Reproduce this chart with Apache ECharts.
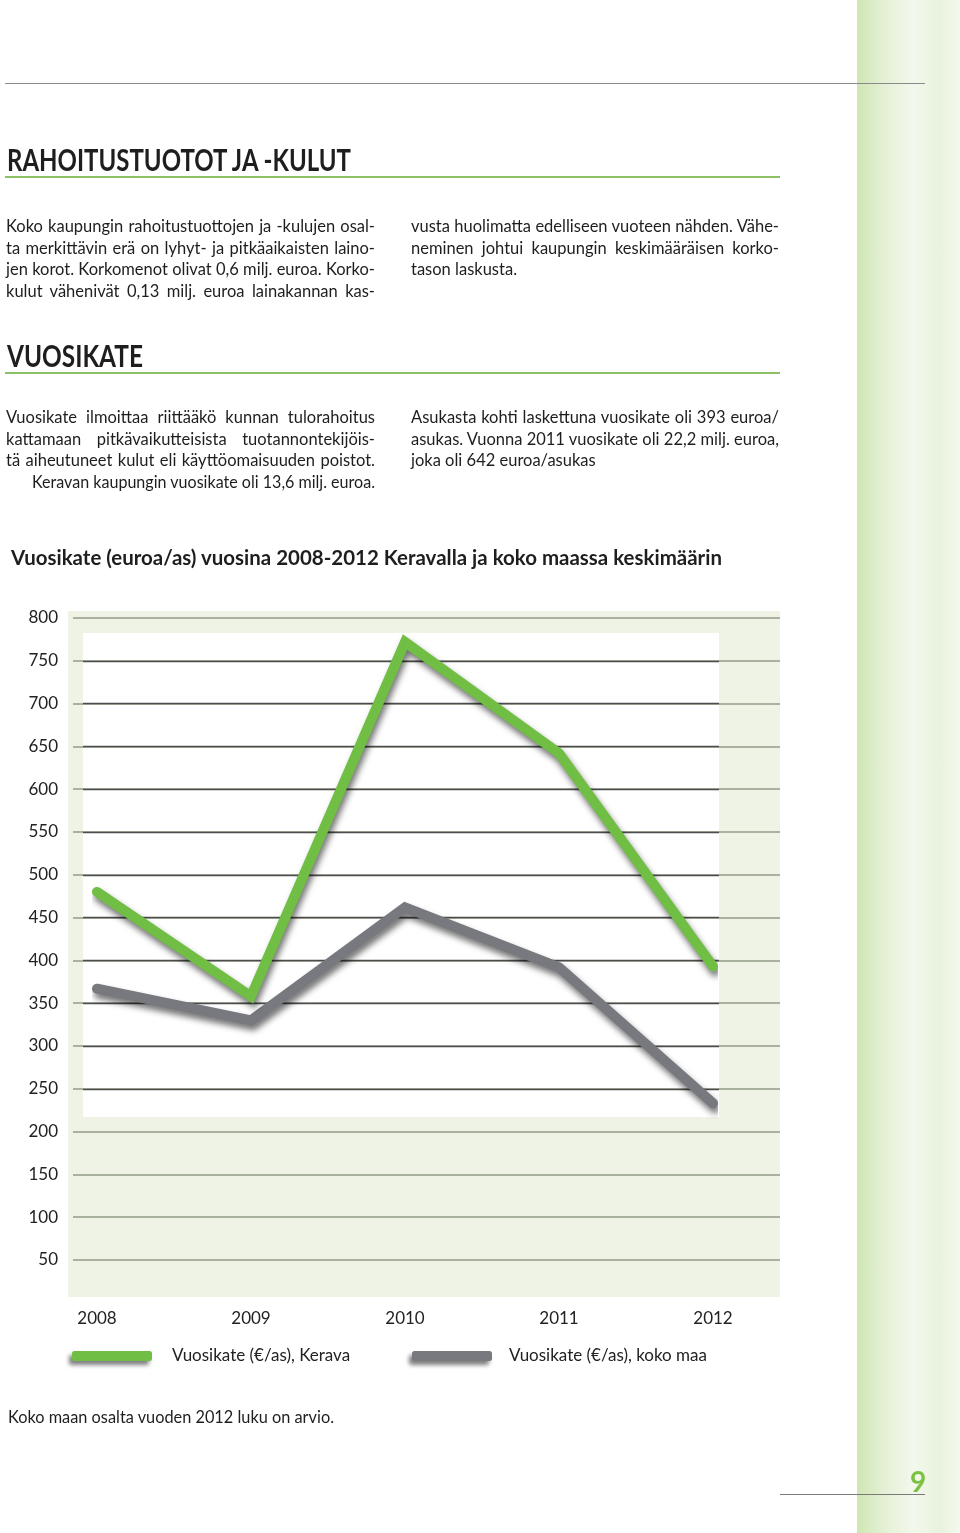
<!DOCTYPE html>
<html>
<head>
<meta charset="utf-8">
<script src="https://cdn.jsdelivr.net/npm/echarts@6/dist/echarts.min.js"></script>
<style>
  html, body { margin: 0; padding: 0; }
  body { width: 960px; height: 1533px; position: relative; overflow: hidden; background: #fff; font-family: Lato, "Noto Sans", sans-serif; color: #222; }
  #stripe { position: absolute; left: 857px; top: 0; width: 103px; height: 1533px;
    background: linear-gradient(to right, #cfe6b3 0%, #e3f0d4 25%, #f3f8ec 55%, #e8f2dc 80%, #f4f9ef 100%); }
  #chart { position: absolute; left: 0; top: 0; width: 960px; height: 1533px; }
  .abs { position: absolute; white-space: nowrap; }
  .rule { position: absolute; height: 2px; background: #8cc166; }
  .h { font-weight: 700; font-size: 31px; line-height: 31px; color: #1e1e1e; transform-origin: 0 0; }
  .ln { position: absolute; font-size: 16.5px; line-height: 21.7px; height: 21.7px; white-space: nowrap; color: #1e1e1e; }
  .j { text-align: justify; text-align-last: justify; }
  .ln span { display: inline-block; transform-origin: 0 0; }
</style>
</head>
<body>
<div id="stripe"></div>
<div id="chart"></div>

<div class="abs" style="left:5px;top:83px;width:920px;height:1px;background:#8a8a8a;"></div>

<div class="abs h fit" data-w="344" style="left:7px;top:143.5px;">RAHOITUSTUOTOT JA -KULUT</div>
<div class="rule" style="left:5px;top:176px;width:775px;"></div>

<div class="ln j" style="left:6px;top:216px;width:369px;">Koko kaupungin rahoitustuottojen ja -kulujen osal-</div>
<div class="ln j" style="left:6px;top:237.7px;width:369px;">ta merkittävin erä on lyhyt- ja pitkäaikaisten laino-</div>
<div class="ln j" style="left:6px;top:259.4px;width:369px;">jen korot. Korkomenot olivat 0,6 milj. euroa. Korko-</div>
<div class="ln j" style="left:6px;top:281.1px;width:369px;">kulut vähenivät 0,13 milj. euroa lainakannan kas-</div>

<div class="ln j" style="left:411px;top:216px;width:368px;">vusta huolimatta edelliseen vuoteen nähden. Vähe-</div>
<div class="ln j" style="left:411px;top:237.7px;width:368px;">neminen johtui kaupungin keskimääräisen korko-</div>
<div class="ln" style="left:411px;top:259.4px;width:368px;">tason laskusta.</div>

<div class="abs h fit" data-w="136" style="left:7px;top:339.5px;">VUOSIKATE</div>
<div class="rule" style="left:5px;top:372px;width:775px;"></div>

<div class="ln j" style="left:6px;top:406.8px;width:369px;">Vuosikate ilmoittaa riittääkö kunnan tulorahoitus</div>
<div class="ln j" style="left:6px;top:428.5px;width:369px;">kattamaan pitkävaikutteisista tuotannontekijöis-</div>
<div class="ln j" style="left:6px;top:450.2px;width:369px;">tä aiheutuneet kulut eli käyttöomaisuuden poistot.</div>
<div class="ln j" style="left:32px;top:471.9px;width:343px;">Keravan kaupungin vuosikate oli 13,6 milj. euroa.</div>

<div class="ln j" style="left:411px;top:406.8px;width:368px;">Asukasta kohti laskettuna vuosikate oli 393 euroa/</div>
<div class="ln j" style="left:411px;top:428.5px;width:368px;">asukas. Vuonna 2011 vuosikate oli 22,2 milj. euroa,</div>
<div class="ln" style="left:411px;top:450.2px;width:368px;">joka oli 642 euroa/asukas</div>

<div class="abs fit" data-w="711" style="left:11px;top:547px;font-size:20px;line-height:20px;font-weight:700;color:#1e1e1e;transform-origin:0 0;">Vuosikate (euroa/as) vuosina 2008-2012 Keravalla ja koko maassa keskimäärin</div>

<div class="abs fit" data-w="326" style="left:8px;top:1408px;font-size:17px;line-height:17px;color:#1e1e1e;transform-origin:0 0;">Koko maan osalta vuoden 2012 luku on arvio.</div>

<div class="abs" style="left:910px;top:1467px;font-size:28px;line-height:28px;font-weight:700;color:#7cc242;">9</div>
<div class="abs" style="left:780px;top:1494px;width:145px;height:1px;background:#7a7a7a;"></div>

<script>
// ---- data ----
const years = ['2008', '2009', '2010', '2011', '2012'];
const keravaName = 'Vuosikate (€/as), Kerava';
const maaName = 'Vuosikate (€/as), koko maa';
const keravaValues = [480, 358, 772, 642, 393];
const maaValues = [367, 330, 462, 392, 233];
const yMin = 0, yMax = 800, yStep = 50;
const innerMin = 250, innerMax = 750;

// ---- text fitting ----
document.querySelectorAll('.fit').forEach(el => {
  const w = parseFloat(el.dataset.w);
  const nat = el.getBoundingClientRect().width;
  if (nat > 0) el.style.transform = 'scaleX(' + (w / nat) + ')';
});
document.querySelectorAll('.ln').forEach(el => {
  const w = parseFloat(el.style.width);
  const probe = document.createElement('span');
  probe.textContent = el.textContent;
  el.textContent = '';
  el.appendChild(probe);
  const nat = probe.getBoundingClientRect().width;
  if (nat > w) {
    probe.style.transform = 'scaleX(' + (w / nat) + ')';
  } else if (el.classList.contains('j')) {
    el.removeChild(probe);
    el.textContent = probe.textContent;
  }
});

// ---- chart ----
const pxPerUnit = 642 / 750;
const top800 = 618;
const fullH = (yMax - yMin) * pxPerUnit;
const innerTop = top800 + (yMax - innerMax) * pxPerUnit;
const innerH = (innerMax - innerMin) * pxPerUnit;

const chart = echarts.init(document.getElementById('chart'), null, { renderer: 'canvas' });
const lineShadow = { shadowColor: 'rgba(0,0,0,0.55)', shadowBlur: 6, shadowOffsetX: 2, shadowOffsetY: 5 };
chart.setOption({
  animation: false,
  backgroundColor: 'transparent',
  textStyle: { fontFamily: 'Lato' },
  graphic: [
    { type: 'rect', z: -100, shape: { x: 68, y: 611, width: 712, height: 686 }, style: { fill: '#eef3e6' } },
    { type: 'rect', z: -99, shape: { x: 83, y: 633, width: 636, height: 484 }, style: { fill: '#ffffff' } }
  ],
  grid: [
    { left: 73, right: 180, top: top800, height: fullH },
    { left: 83, right: 241, top: innerTop, height: innerH },
    { left: 97, right: 247, top: top800, height: fullH }
  ],
  xAxis: [
    { gridIndex: 0, type: 'value', show: false, min: 0, max: 1 },
    { gridIndex: 1, type: 'value', show: false, min: 0, max: 1 },
    { gridIndex: 2, type: 'category', data: years, boundaryGap: false,
      axisLine: { show: false }, axisTick: { show: false }, splitLine: { show: false },
      axisLabel: { margin: 7, fontSize: 17, color: '#222', fontFamily: 'Lato' } }
  ],
  yAxis: [
    { gridIndex: 0, type: 'value', min: yMin, max: yMax, interval: yStep, z: 0,
      axisLine: { show: false }, axisTick: { show: false },
      axisLabel: { margin: 15, fontSize: 17, color: '#222', fontFamily: 'Lato', padding: [0, 0, 9, 0],
        formatter: v => (v === 0 ? '' : String(v)) },
      splitLine: { show: true, showMinLine: false, lineStyle: { color: '#929c86', width: 1.6 } } },
    { gridIndex: 1, type: 'value', min: innerMin, max: innerMax, interval: yStep, z: 1,
      axisLine: { show: false }, axisTick: { show: false }, axisLabel: { show: false },
      splitLine: { show: true, lineStyle: { color: '#4d4d4d', width: 1.3 } } },
    { gridIndex: 2, type: 'value', min: yMin, max: yMax, interval: yStep, show: false,
      splitLine: { show: false } }
  ],
  legend: [
    { data: [keravaName], left: 72, top: 1347.5, padding: 0, itemWidth: 80, itemHeight: 10, icon: 'roundRect',
      itemStyle: { shadowColor: 'rgba(0,0,0,0.5)', shadowBlur: 4, shadowOffsetX: -3, shadowOffsetY: 4 },
      textStyle: { fontSize: 17, color: '#222', fontFamily: 'Lato', padding: [0, 0, 0, 15] } },
    { data: [maaName], left: 412, top: 1347.5, padding: 0, itemWidth: 80, itemHeight: 10, icon: 'roundRect',
      itemStyle: { shadowColor: 'rgba(0,0,0,0.5)', shadowBlur: 4, shadowOffsetX: -3, shadowOffsetY: 4 },
      textStyle: { fontSize: 17, color: '#222', fontFamily: 'Lato', padding: [0, 0, 0, 12] } }
  ],
  series: [
    { name: maaName, type: 'line', xAxisIndex: 2, yAxisIndex: 2, data: maaValues,
      showSymbol: false, symbol: 'none', color: '#78797e',
      lineStyle: Object.assign({ width: 10, color: '#78797e', cap: 'round', join: 'miter' }, lineShadow) },
    { name: keravaName, type: 'line', xAxisIndex: 2, yAxisIndex: 2, data: keravaValues,
      showSymbol: false, symbol: 'none', color: '#70bf44',
      lineStyle: Object.assign({ width: 10, color: '#70bf44', cap: 'round', join: 'miter' }, lineShadow) }
  ]
});
</script>
</body>
</html>
